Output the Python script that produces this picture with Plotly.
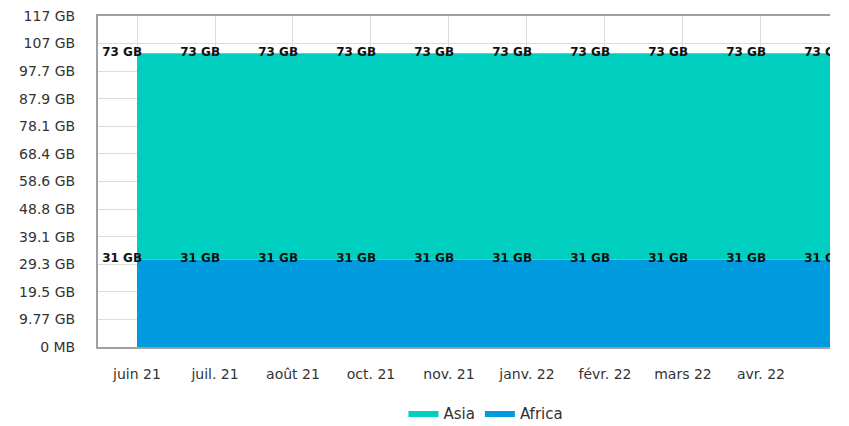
import numpy as np
import plotly.graph_objects as go

# ---------------------------------------------------------------- Data
MONTHS = ["juin 21", "juil. 21", "août 21", "oct. 21", "nov. 21",
          "janv. 22", "févr. 22", "mars 22", "avr. 22", "mai 22"]
AFRICA_GB = [31, 31, 31, 31, 31, 31, 31, 31, 31, 31]
ASIA_GB = [73, 73, 73, 73, 73, 73, 73, 73, 73, 73]

Y_TICK_VALS = [0, 9.765625, 19.53125, 29.296875, 39.0625, 48.828125,
               58.59375, 68.359375, 78.125, 87.890625, 97.65625,
               107.421875, 117.1875]
Y_TICK_TEXT = ["0 MB", "9.77 GB", "19.5 GB", "29.3 GB", "39.1 GB", "48.8 GB",
               "58.6 GB", "68.4 GB", "78.1 GB", "87.9 GB", "97.7 GB",
               "107 GB", "117 GB"]

COL_ASIA = "#00CEBF"
COL_AFRICA = "#009ADF"
FONT = "DejaVu Sans"

# ---------------------------------------------------------------- Figure
x = np.arange(len(MONTHS))
label_dx = -0.19  # data labels sit a little left of each point

fig = go.Figure()
fig.add_trace(go.Scatter(
    x=x, y=AFRICA_GB, name="Africa", mode="lines", stackgroup="s",
    line=dict(width=0, color=COL_AFRICA), fillcolor=COL_AFRICA,
    legendrank=2,
))
fig.add_trace(go.Scatter(
    x=x, y=ASIA_GB, name="Asia", mode="lines", stackgroup="s",
    line=dict(width=0, color=COL_ASIA), fillcolor=COL_ASIA,
    legendrank=1,
))

top = np.array(AFRICA_GB) + np.array(ASIA_GB)
for vals, ys in [(AFRICA_GB, AFRICA_GB), (ASIA_GB, top)]:
    fig.add_trace(go.Scatter(
        x=x + label_dx, y=ys, mode="text",
        text=[f"{v} GB" for v in vals],
        textposition="middle center",
        textfont=dict(family=FONT, size=12, color="#111", weight="bold"),
        cliponaxis=True, showlegend=False, hoverinfo="skip",
    ))

fig.update_xaxes(
    range=[-0.5, 8.885], tickvals=x, ticktext=MONTHS,
    showgrid=True, gridcolor="#dcdcdc", gridwidth=1,
    showline=True, linecolor="#a0a0a0", linewidth=2, mirror=True,
    ticks="", ticklabelstandoff=13, zeroline=False, automargin=False,
    tickfont=dict(family=FONT, size=14, color="#333"),
)
fig.update_yaxes(
    range=[0, 117.1875], tickvals=Y_TICK_VALS, ticktext=Y_TICK_TEXT,
    showgrid=True, gridcolor="#dcdcdc", gridwidth=1,
    showline=True, linecolor="#a0a0a0", linewidth=2,
    ticks="", ticklabelstandoff=18, zeroline=False, automargin=False,
    ticklabeloverflow="allow",
    tickfont=dict(family=FONT, size=14, color="#333"),
)

# page body has an 8px margin, so the figure is sized/offset to compensate
fig.update_layout(
    width=841, height=418,
    plot_bgcolor="white", paper_bgcolor="white",
    margin=dict(l=90, r=19, t=8, b=79, autoexpand=False),
    legend=dict(
        orientation="h", x=0.53, xanchor="center",
        y=-0.2, yanchor="middle", traceorder="normal",
        font=dict(family=FONT, size=15, color="#333"),
    ),
)

fig.write_html("out.html")
